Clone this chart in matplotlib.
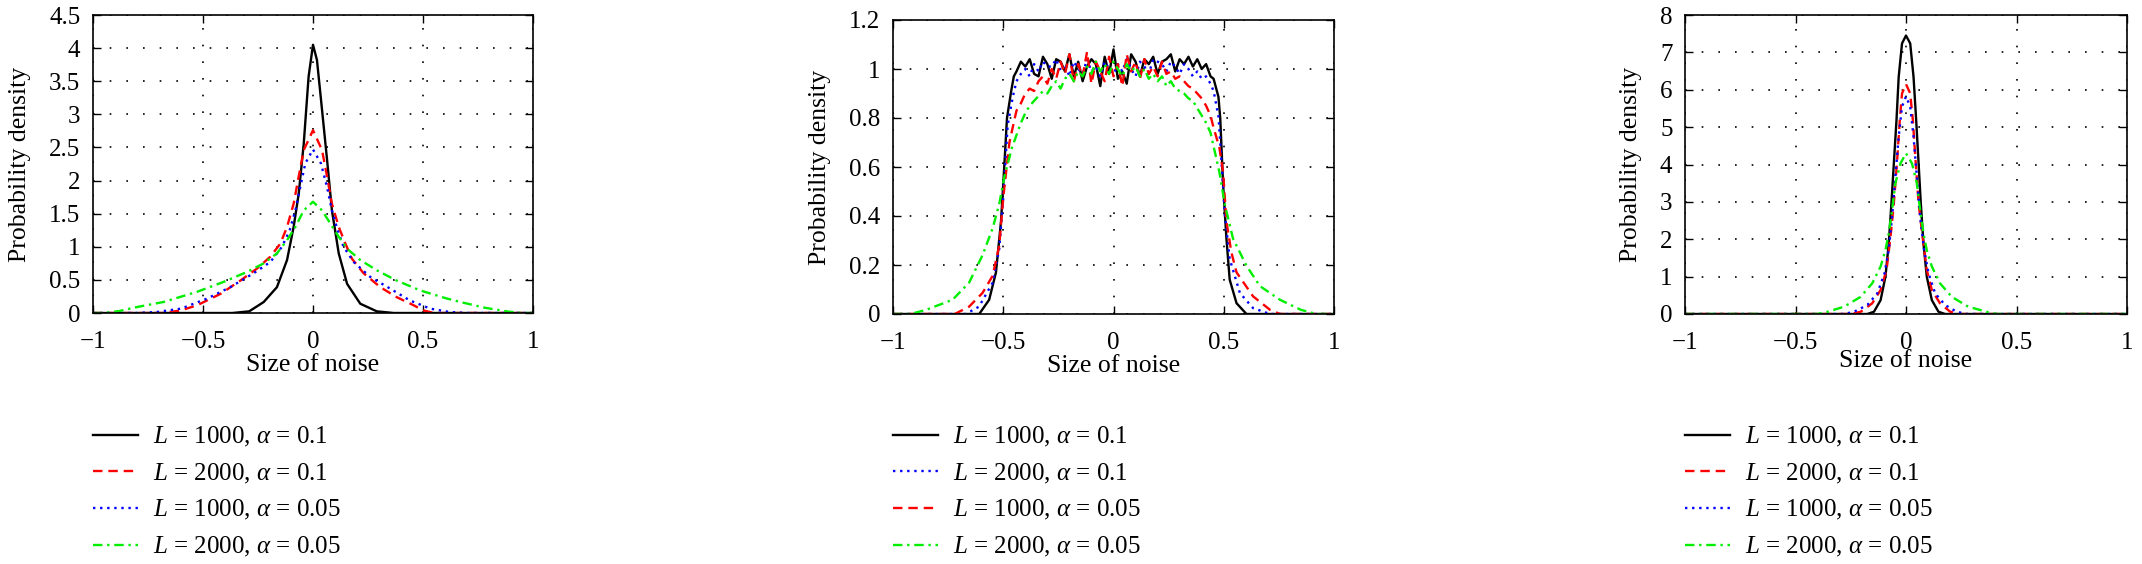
import numpy as np
import matplotlib
matplotlib.use("Agg")
import matplotlib.pyplot as plt

plt.rcParams['font.family'] = ['Liberation Serif', 'DejaVu Serif']
plt.rcParams['mathtext.fontset'] = 'custom'
plt.rcParams['mathtext.rm'] = 'Liberation Serif'
plt.rcParams['mathtext.it'] = 'Liberation Serif:italic'

# ---- data ----
# panel 1 (peaked)
p1_black_x = [-1.0, -0.367, -0.29, -0.224, -0.164, -0.118, -0.088, -0.065, -0.042, -0.02, 0.0,
              0.018, 0.041, 0.064, 0.086, 0.117, 0.155, 0.215, 0.29, 0.367, 1.0]
p1_black_y = [0, 0, 0.025, 0.166, 0.39, 0.80, 1.3, 1.8, 2.56, 3.57, 4.05,
              3.82, 3.07, 2.31, 1.55, 0.9, 0.44, 0.14, 0.025, 0, 0]
p1_red_x = [-1.0, -0.68, -0.60, -0.527, -0.42, -0.33, -0.255, -0.194, -0.148, -0.118, -0.088, -0.065, -0.042, 0.0,
            0.041, 0.064, 0.086, 0.117, 0.147, 0.177, 0.23, 0.306, 0.38, 0.458, 0.50, 0.55, 1.0]
p1_red_y = [0, 0, 0.04, 0.116, 0.29, 0.49, 0.67, 0.85, 1.05, 1.30, 1.65, 2.06, 2.46, 2.76,
            2.46, 2.06, 1.65, 1.30, 1.05, 0.82, 0.6, 0.39, 0.24, 0.116, 0.04, 0, 0]
p1_blue_x = [-1.0, -0.80, -0.71, -0.60, -0.48, -0.376, -0.27, -0.194, -0.141, -0.106, -0.08, -0.058, -0.035, 0.0,
             0.036, 0.064, 0.086, 0.112, 0.139, 0.185, 0.26, 0.35, 0.44, 0.533, 0.62, 0.70, 1.0]
p1_blue_y = [0, 0, 0.015, 0.066, 0.22, 0.39, 0.6, 0.77, 1.0, 1.25, 1.55, 1.9, 2.26, 2.47,
             2.26, 1.9, 1.55, 1.25, 1.0, 0.77, 0.545, 0.37, 0.19, 0.066, 0.015, 0, 0]
p1_green_x = [-1.0, -0.95, -0.88, -0.80, -0.68, -0.527, -0.406, -0.30, -0.224, -0.164, -0.118, -0.08, -0.042, 0.0,
              0.041, 0.079, 0.117, 0.162, 0.215, 0.29, 0.38, 0.488, 0.61, 0.67, 0.78, 0.89, 0.95, 1.0]
p1_green_y = [0, 0, 0.03, 0.09, 0.166, 0.32, 0.47, 0.62, 0.75, 0.9, 1.10, 1.30, 1.55, 1.68,
              1.55, 1.35, 1.15, 0.95, 0.8, 0.645, 0.49, 0.34, 0.217, 0.166, 0.08, 0.02, 0, 0]

# panel 2 (flat top) : flanks + noisy plateau sampled every 0.02 from -0.44 to 0.44
p2_plateau_x = np.round(np.arange(-0.44, 0.4401, 0.02), 2)
p2_black_left_x = [-1.0, -0.609, -0.564, -0.533, -0.51, -0.5, -0.483, -0.464, -0.452]
p2_black_left_y = [0, 0, 0.058, 0.17, 0.38, 0.53, 0.8, 0.91, 0.97]
p2_black_top = [0.99, 1.03, 1.01, 1.04, 0.98, 0.97, 1.05, 1.02, 0.96, 1.04, 1.03, 0.99, 1.06, 0.97, 1.03,
                0.95, 1.01, 1.04, 1.02, 0.93, 1.05, 0.98, 1.08, 0.96, 0.99, 0.94, 1.06, 1.03, 0.97, 1.04,
                1.02, 1.05, 0.98, 1.03, 1.04, 1.06, 0.99, 1.04, 1.02, 1.05, 1.01, 1.04, 1.00, 1.02, 0.97]
p2_black_right_x = [0.454, 0.476, 0.484, 0.497, 0.512, 0.527, 0.558, 0.603, 1.0]
p2_black_right_y = [0.96, 0.886, 0.8, 0.53, 0.31, 0.14, 0.044, 0, 0]

p2_blue_left_x = [-1.0, -0.67, -0.61, -0.548, -0.518, -0.5, -0.48, -0.457]
p2_blue_left_y = [0, 0, 0.03, 0.128, 0.267, 0.475, 0.77, 0.885]
p2_blue_top = [0.95, 0.98, 1.00, 0.97, 1.02, 0.99, 1.03, 1.01, 1.01, 1.04, 0.99, 1.02, 0.97, 1.03, 1.00,
               0.98, 1.04, 0.99, 1.01, 0.97, 1.03, 1.00, 0.98, 1.02, 0.99, 1.04, 1.00, 0.97, 1.03, 1.01,
               0.98, 1.04, 1.03, 1.02, 0.99, 1.03, 1.01, 0.98, 1.02, 1.00, 0.97, 0.99, 0.96, 0.97, 0.94]
p2_blue_right_x = [0.454, 0.476, 0.49, 0.505, 0.527, 0.573, 0.633, 0.71, 1.0]
p2_blue_right_y = [0.91, 0.807, 0.62, 0.405, 0.225, 0.086, 0.024, 0, 0]

p2_red_left_x = [-1.0, -0.72, -0.655, -0.594, -0.548, -0.518, -0.5, -0.472, -0.455]
p2_red_left_y = [0, 0, 0.03, 0.086, 0.156, 0.28, 0.475, 0.70, 0.77]
p2_red_top = [0.83, 0.86, 0.90, 0.92, 0.91, 0.95, 0.97, 0.94, 1.00, 0.96, 1.03, 0.98, 1.06, 0.95, 1.02,
              0.97, 1.07, 0.94, 1.03, 0.99, 0.95, 1.05, 0.97, 1.02, 0.93, 1.06, 0.99, 1.03, 0.96, 1.04,
              0.98, 1.01, 0.97, 1.03, 0.98, 0.99, 0.96, 0.97, 0.95, 0.93, 0.92, 0.90, 0.88, 0.85, 0.81]
p2_red_right_x = [0.454, 0.48, 0.497, 0.512, 0.535, 0.558, 0.633, 0.71, 0.755, 1.0]
p2_red_right_y = [0.76, 0.68, 0.58, 0.378, 0.25, 0.17, 0.072, 0.017, 0, 0]

p2_green_left_x = [-1.0, -0.92, -0.85, -0.73, -0.655, -0.594, -0.548, -0.518, -0.495, -0.46]
p2_green_left_y = [0, 0, 0.017, 0.058, 0.128, 0.24, 0.35, 0.45, 0.56, 0.68]
p2_green_top = [0.73, 0.78, 0.82, 0.85, 0.87, 0.89, 0.91, 0.90, 0.93, 0.95, 0.92, 0.96, 0.98, 0.95, 0.99,
                0.97, 1.01, 0.98, 1.03, 0.99, 1.02, 0.98, 1.03, 1.00, 0.97, 1.02, 0.99, 1.01, 0.97, 1.00,
                0.96, 0.98, 0.95, 0.97, 0.93, 0.95, 0.92, 0.91, 0.90, 0.88, 0.87, 0.84, 0.81, 0.78, 0.74]
p2_green_right_x = [0.46, 0.48, 0.505, 0.542, 0.603, 0.664, 0.755, 0.85, 0.92, 1.0]
p2_green_right_y = [0.66, 0.58, 0.447, 0.308, 0.197, 0.114, 0.058, 0.017, 0, 0]

# panel 3 (narrow)
p3_black_x = [-1.0, -0.175, -0.145, -0.115, -0.093, -0.078, -0.066, -0.055, -0.043, -0.033, -0.018, 0.0,
              0.019, 0.034, 0.046, 0.057, 0.067, 0.079, 0.094, 0.117, 0.147, 0.177, 1.0]
p3_black_y = [0, 0, 0.06, 0.37, 1.0, 1.89, 2.96, 4.03, 5.19, 6.35, 7.24, 7.45,
              7.24, 6.35, 5.19, 4.03, 2.96, 1.89, 1.0, 0.37, 0.06, 0, 0]
p3_red_x = [-1.0, -0.25, -0.205, -0.153, -0.115, -0.088, -0.07, -0.055, -0.04, -0.028, -0.018, 0.0,
            0.019, 0.031, 0.043, 0.057, 0.075, 0.094, 0.117, 0.154, 0.2, 0.244, 1.0]
p3_red_y = [0, 0, 0.06, 0.285, 0.64, 1.18, 2.07, 2.96, 4.12, 5.19, 5.9, 6.15,
            5.9, 5.19, 4.12, 2.96, 2.07, 1.18, 0.64, 0.285, 0.06, 0, 0]
p3_blue_x = [-1.0, -0.28, -0.235, -0.175, -0.13, -0.097, -0.078, -0.063, -0.048, -0.033, -0.018, 0.0,
             0.019, 0.034, 0.049, 0.064, 0.082, 0.102, 0.132, 0.177, 0.229, 0.274, 1.0]
p3_blue_y = [0, 0, 0.06, 0.24, 0.55, 1.09, 1.71, 2.6, 3.68, 4.75, 5.55, 5.82,
             5.55, 4.75, 3.68, 2.6, 1.71, 1.09, 0.55, 0.24, 0.06, 0, 0]
p3_green_x = [-1.0, -0.40, -0.355, -0.28, -0.205, -0.153, -0.115, -0.093, -0.078, -0.063, -0.048, -0.025, 0.0,
              0.027, 0.049, 0.064, 0.079, 0.094, 0.117, 0.154, 0.207, 0.281, 0.364, 0.41, 1.0]
p3_green_y = [0, 0, 0.06, 0.196, 0.46, 0.82, 1.27, 1.71, 2.16, 2.78, 3.5, 4.03, 4.3,
              4.03, 3.5, 2.78, 2.16, 1.71, 1.27, 0.82, 0.46, 0.196, 0.06, 0, 0]

labels_a = [r'$L$ = 1000, $\alpha$ = 0.1', r'$L$ = 2000, $\alpha$ = 0.1',
            r'$L$ = 1000, $\alpha$ = 0.05', r'$L$ = 2000, $\alpha$ = 0.05']

xticks = [-1, -0.5, 0, 0.5, 1]
xticklabels = ['\u22121', '\u22120.5', '0', '0.5', '1']
p1_yticks = [0, 0.5, 1, 1.5, 2, 2.5, 3, 3.5, 4, 4.5]
p1_yticklabels = ['0', '0.5', '1', '1.5', '2', '2.5', '3', '3.5', '4', '4.5']
p2_yticks = [0, 0.2, 0.4, 0.6, 0.8, 1.0, 1.2]
p2_yticklabels = ['0', '0.2', '0.4', '0.6', '0.8', '1', '1.2']
p3_yticks = [0, 1, 2, 3, 4, 5, 6, 7, 8]
p3_yticklabels = ['0', '1', '2', '3', '4', '5', '6', '7', '8']

# ---- styles ----
FS_TICK = 18
FS_LAB = 18.5
FS_LEG = 18
W, H = 2142, 564
st_black = dict(color='black', linestyle='-', lw=1.7)
st_red = dict(color='#ff0000', linestyle=(0, (4, 2.5)), lw=1.7)
st_blue = dict(color='#0000ff', linestyle=(0, (1, 2)), lw=1.7)
st_green = dict(color='#00ee00', linestyle=(0, (4, 2, 1, 2)), lw=1.7)

fig = plt.figure(figsize=(W / 100, H / 100), dpi=100)


def make_axes(left, right, top, bottom):
    return fig.add_axes([left / W, 1 - bottom / H, (right - left) / W, (bottom - top) / H])


def style(ax, ylim, yticks, yticklabels, xpad=1):
    ax.set_xlim(-1, 1)
    ax.set_ylim(*ylim)
    ax.set_xticks(xticks, xticklabels)
    ax.set_yticks(yticks, yticklabels)
    ax.tick_params(direction='in', top=True, right=True, length=6, width=1,
                   labelsize=FS_TICK)
    ax.tick_params(axis='x', pad=13)
    ax.tick_params(axis='y', pad=9)
    ax.grid(True, color='black', linestyle=(0, (1, 9)), lw=1.2)
    for s in ax.spines.values():
        s.set_linewidth(1.2)
    ax.set_xlabel('Size of noise', fontsize=FS_LAB, labelpad=xpad)
    ax.set_ylabel('Probability density', fontsize=FS_LAB, labelpad=13)


def add_legend(ax, handles, labels, left):
    ax.legend(handles, labels, loc='upper left', bbox_to_anchor=(left / W, 1 - 425 / H),
              bbox_transform=fig.transFigure, frameon=False, fontsize=FS_LEG,
              handlelength=1.8, handletextpad=0.6, labelspacing=0.5,
              borderpad=0, borderaxespad=0)


# panel 1
ax1 = make_axes(93, 533, 15, 313)
h1 = ax1.plot(p1_black_x, p1_black_y, **st_black)
h2 = ax1.plot(p1_red_x, p1_red_y, **st_red)
h3 = ax1.plot(p1_blue_x, p1_blue_y, **st_blue)
h4 = ax1.plot(p1_green_x, p1_green_y, **st_green)
style(ax1, (0, 4.5), p1_yticks, p1_yticklabels)
add_legend(ax1, [h1[0], h2[0], h3[0], h4[0]], labels_a, 93)

# panel 2
ax2 = make_axes(893, 1334, 20, 314)


def join(lx, ly, top, rx, ry):
    return (list(lx) + list(p2_plateau_x) + list(rx), list(ly) + list(top) + list(ry))


bx, by = join(p2_black_left_x, p2_black_left_y, p2_black_top, p2_black_right_x, p2_black_right_y)
ux, uy = join(p2_blue_left_x, p2_blue_left_y, p2_blue_top, p2_blue_right_x, p2_blue_right_y)
rx, ry = join(p2_red_left_x, p2_red_left_y, p2_red_top, p2_red_right_x, p2_red_right_y)
gx, gy = join(p2_green_left_x, p2_green_left_y, p2_green_top, p2_green_right_x, p2_green_right_y)
k1 = ax2.plot(bx, by, **st_black)
k2 = ax2.plot(ux, uy, **st_blue)
k3 = ax2.plot(rx, ry, **st_red)
k4 = ax2.plot(gx, gy, **st_green)
style(ax2, (0, 1.2), p2_yticks, p2_yticklabels)
add_legend(ax2, [k1[0], k2[0], k3[0], k4[0]], labels_a, 893)

# panel 3
ax3 = make_axes(1685, 2127, 15, 314)
m1 = ax3.plot(p3_black_x, p3_black_y, **st_black)
m2 = ax3.plot(p3_red_x, p3_red_y, **st_red)
m3 = ax3.plot(p3_blue_x, p3_blue_y, **st_blue)
m4 = ax3.plot(p3_green_x, p3_green_y, **st_green)
style(ax3, (0, 8), p3_yticks, p3_yticklabels, xpad=-3)
add_legend(ax3, [m1[0], m2[0], m3[0], m4[0]], labels_a, 1685)

fig.savefig('out.png', dpi=100)
